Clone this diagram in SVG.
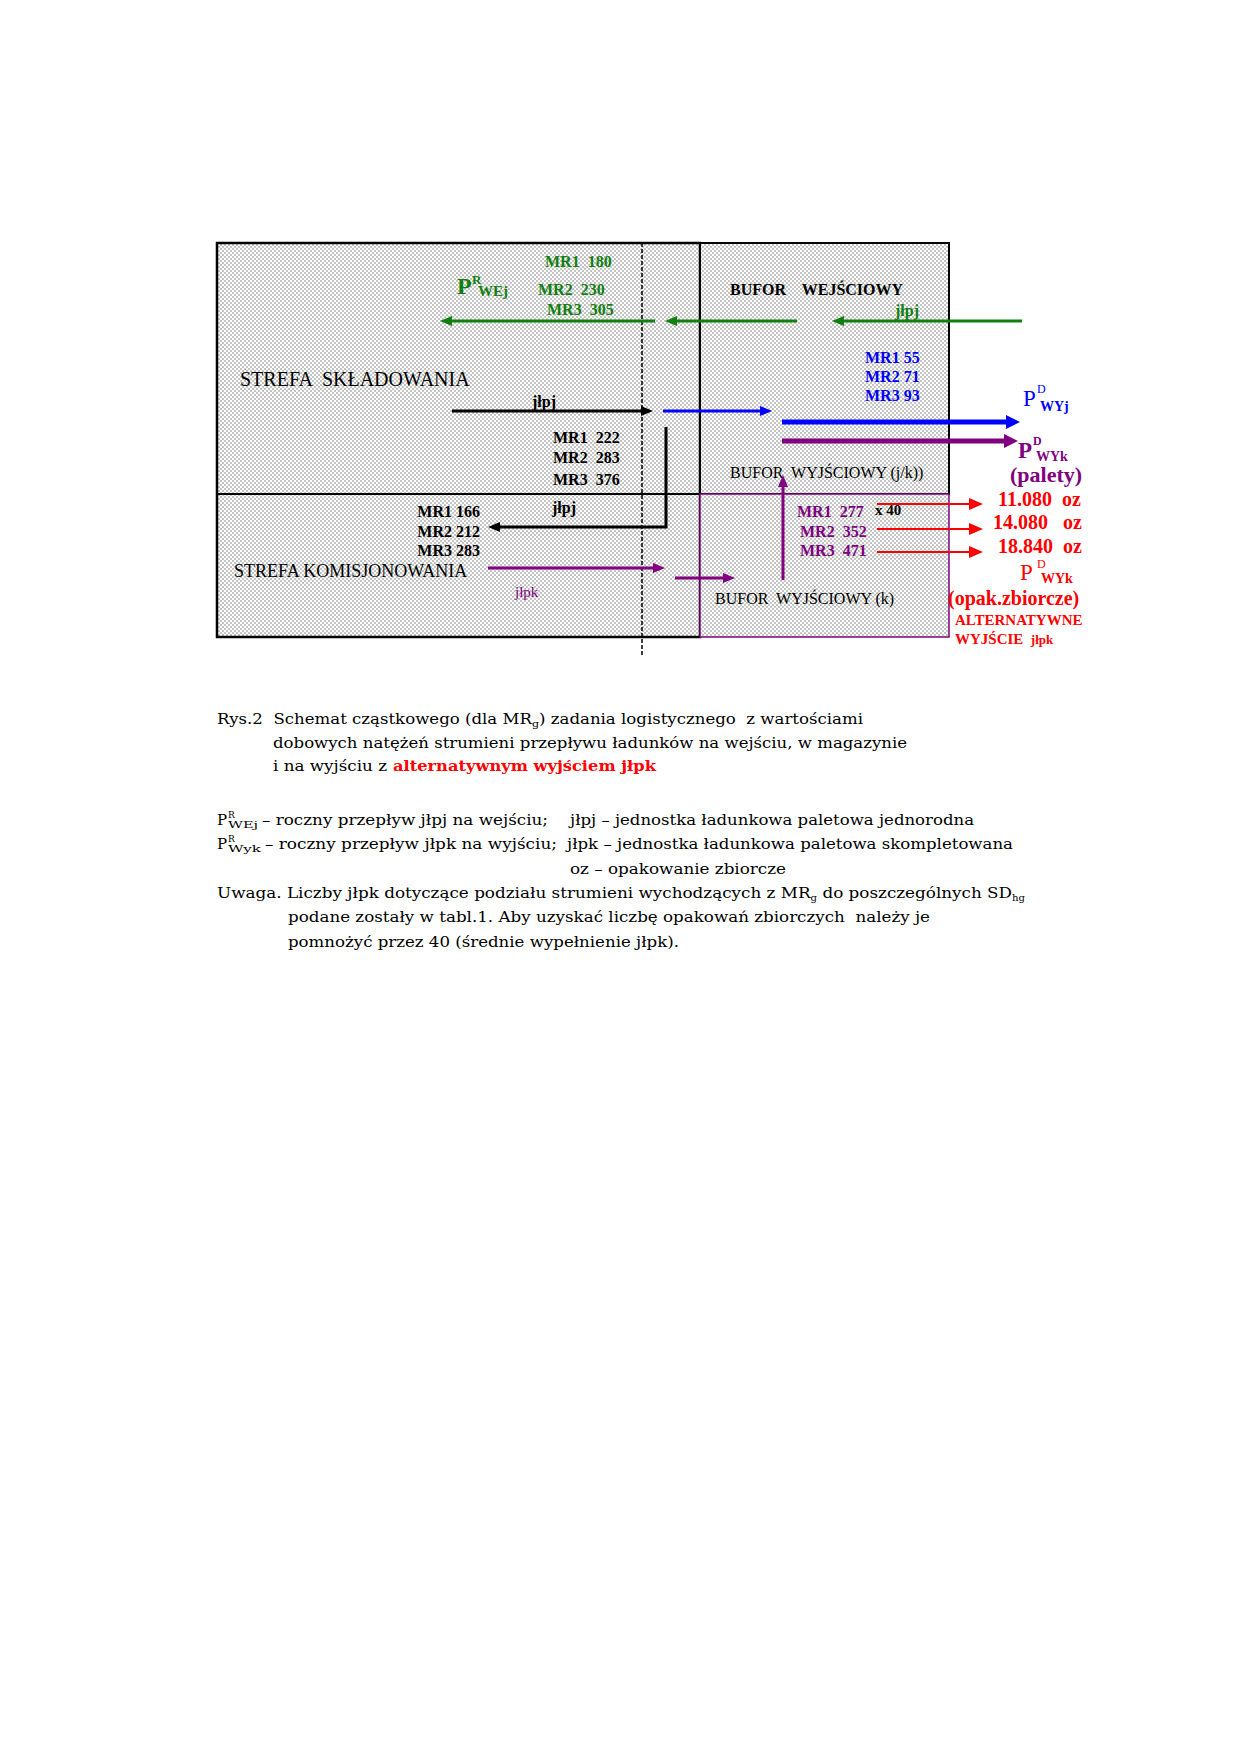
<svg xmlns="http://www.w3.org/2000/svg" width="1240" height="1754" viewBox="0 0 1240 1754">
<style>
text{font-family:"Liberation Serif","Times New Roman",serif;white-space:pre}
.b{font-weight:bold}
.g{fill:#108010}
.bl{fill:#0000ff}
.pu{fill:#800080}
.r{fill:#ff0000}
.k{fill:#000000}
.cap{font-family:"DejaVu Serif",serif;font-size:15px;fill:#000000}
.s16{font-size:16px}
.s15{font-size:15px}
.s20{font-size:20px}
</style>
<defs>
<pattern id="hatch" width="4" height="4" patternUnits="userSpaceOnUse">
<rect width="4" height="4" fill="#ffffff"/>
<rect width="2" height="2" fill="#c4c4c4"/>
<rect x="2" y="2" width="2" height="2" fill="#c4c4c4"/>
</pattern>
<marker id="mg" viewBox="0 0 12 10" refX="1" refY="5" markerWidth="12" markerHeight="10" markerUnits="userSpaceOnUse" orient="auto"><path d="M0,0 L12,5 L0,10 z" fill="#108010"/></marker>
<marker id="mk" viewBox="0 0 12 10" refX="1" refY="5" markerWidth="12" markerHeight="10" markerUnits="userSpaceOnUse" orient="auto"><path d="M0,0 L12,5 L0,10 z" fill="#000000"/></marker>
<marker id="mb" viewBox="0 0 12 10" refX="1" refY="5" markerWidth="12" markerHeight="10" markerUnits="userSpaceOnUse" orient="auto"><path d="M0,0 L12,5 L0,10 z" fill="#0000ff"/></marker>
<marker id="mbt" viewBox="0 0 14 14" refX="1" refY="7" markerWidth="14" markerHeight="14" markerUnits="userSpaceOnUse" orient="auto"><path d="M0,0 L14,7 L0,14 z" fill="#0000ff"/></marker>
<marker id="mpt" viewBox="0 0 14 14" refX="1" refY="7" markerWidth="14" markerHeight="14" markerUnits="userSpaceOnUse" orient="auto"><path d="M0,0 L14,7 L0,14 z" fill="#800080"/></marker>
<marker id="mp" viewBox="0 0 12 10" refX="1" refY="5" markerWidth="12" markerHeight="10" markerUnits="userSpaceOnUse" orient="auto"><path d="M0,0 L12,5 L0,10 z" fill="#800080"/></marker>
<marker id="mr" viewBox="0 0 14 12" refX="1" refY="6" markerWidth="14" markerHeight="12" markerUnits="userSpaceOnUse" orient="auto"><path d="M0,0 L14,6 L0,12 z" fill="#ff0000"/></marker>
</defs>

<g id="strefa-skladowania">
<rect x="217" y="243" width="483" height="394" fill="url(#hatch)" stroke="#000" stroke-width="2.5"/>
<line x1="217" y1="494" x2="700" y2="494" stroke="#000" stroke-width="2"/>
<text x="240" y="386" style="font-size:20px" class="k">STREFA  SKŁADOWANIA</text>
</g>
<g id="strefa-komisjonowania">
<text x="234" y="577" style="font-size:18px" class="k">STREFA KOMISJONOWANIA</text>
</g>
<g id="bufor-wejsciowy">
<rect x="700" y="243" width="249" height="251" fill="url(#hatch)" stroke="#000" stroke-width="2"/>
<text x="730" y="295" class="b s16 k">BUFOR    WEJŚCIOWY</text>
<text x="730" y="478" class="s16 k">BUFOR  WYJŚCIOWY (j/k))</text>
</g>
<g id="bufor-wyjsciowy-k">
<rect x="700" y="494" width="249" height="143" fill="url(#hatch)" stroke="#800080" stroke-width="1.5"/>
<text x="715" y="604" class="s16 k">BUFOR  WYJŚCIOWY (k)</text>
</g>
<line x1="642" y1="243" x2="642" y2="657" stroke="#000" stroke-width="1.5" stroke-dasharray="4,2"/>

<g id="connectors" fill="none">
<line x1="1022" y1="321" x2="843" y2="321" stroke="#108010" stroke-width="3" marker-end="url(#mg)"/>
<line x1="797" y1="321" x2="676" y2="321" stroke="#108010" stroke-width="3" marker-end="url(#mg)"/>
<line x1="655" y1="321" x2="451" y2="321" stroke="#108010" stroke-width="3" marker-end="url(#mg)"/>
<line x1="452" y1="411" x2="642" y2="411" stroke="#000" stroke-width="3" marker-end="url(#mk)"/>
<line x1="663" y1="411" x2="761" y2="411" stroke="#0000ff" stroke-width="3" marker-end="url(#mb)"/>
<line x1="782" y1="422" x2="1007" y2="422" stroke="#0000ff" stroke-width="5" marker-end="url(#mbt)"/>
<line x1="782" y1="441" x2="1005" y2="441" stroke="#800080" stroke-width="5" marker-end="url(#mpt)"/>
<polyline points="666,427 666,527 499,527" stroke="#000" stroke-width="3" marker-end="url(#mk)"/>
<line x1="488" y1="568" x2="654" y2="568" stroke="#800080" stroke-width="3" marker-end="url(#mp)"/>
<line x1="675" y1="578" x2="724" y2="578" stroke="#800080" stroke-width="3" marker-end="url(#mp)"/>
<line x1="783" y1="580" x2="783" y2="486" stroke="#800080" stroke-width="3" marker-end="url(#mp)"/>
<line x1="877" y1="504" x2="970" y2="504" stroke="#ff0000" stroke-width="2" marker-end="url(#mr)"/>
<line x1="877" y1="529" x2="970" y2="529" stroke="#ff0000" stroke-width="2" marker-end="url(#mr)"/>
<line x1="877" y1="552" x2="970" y2="552" stroke="#ff0000" stroke-width="2" marker-end="url(#mr)"/>
</g>

<g id="labels-green">
<text x="545" y="267" class="b s16 g">MR1  180</text>
<text x="538" y="295" class="b s16 g">MR2  230</text>
<text x="547" y="315" class="b s16 g">MR3  305</text>
<text x="457" y="294" class="b g" style="font-size:24px">P</text>
<text x="472" y="284" class="b g" style="font-size:13px">R</text>
<text x="478" y="296" class="b g" style="font-size:15px">WEj</text>
<text x="895" y="316" class="b s16 g">jłpj</text>
</g>
<g id="labels-black">
<text x="532" y="407" class="b s16 k">jłpj</text>
<text x="553" y="443" class="b s16 k">MR1  222</text>
<text x="553" y="463" class="b s16 k">MR2  283</text>
<text x="553" y="485" class="b s16 k">MR3  376</text>
<text x="480" y="517" class="b s16 k" text-anchor="end">MR1 166</text>
<text x="480" y="537" class="b s16 k" text-anchor="end">MR2 212</text>
<text x="480" y="556" class="b s16 k" text-anchor="end">MR3 283</text>
<text x="552" y="513" class="b s16 k">jłpj</text>
<text x="875" y="515" class="b s15 k">x 40</text>
</g>
<g id="labels-blue">
<text x="865" y="363" class="b s16 bl">MR1 55</text>
<text x="865" y="382" class="b s16 bl">MR2 71</text>
<text x="865" y="401" class="b s16 bl">MR3 93</text>
<text x="1023" y="406" class="bl" style="font-size:23px">P</text>
<text x="1037" y="393" class="bl" style="font-size:12px">D</text>
<text x="1040" y="411" class="b bl" style="font-size:14px">WYj</text>
</g>
<g id="labels-purple">
<text x="1018" y="458" class="b pu" style="font-size:23px">P</text>
<text x="1033" y="445" class="b pu" style="font-size:12px">D</text>
<text x="1036" y="461" class="b pu" style="font-size:14px">WYk</text>
<text x="1010" y="482" class="b pu" style="font-size:22px">(palety)</text>
<text x="797" y="517" class="b s16 pu">MR1  277</text>
<text x="800" y="537" class="b s16 pu">MR2  352</text>
<text x="800" y="556" class="b s16 pu">MR3  471</text>
<text x="515" y="597" class="s15 pu">jłpk</text>
</g>
<g id="labels-red">
<text x="998" y="506" class="b s20 r">11.080  oz</text>
<text x="993" y="529" class="b s20 r">14.080   oz</text>
<text x="998" y="553" class="b s20 r">18.840  oz</text>
<text x="1020" y="580" class="r" style="font-size:23px">P</text>
<text x="1037" y="568" class="r" style="font-size:12px">D</text>
<text x="1041" y="583" class="b r" style="font-size:14px">WYk</text>
<text x="948" y="605" class="b r" style="font-size:20px">(opak.zbiorcze)</text>
<text x="955" y="625" class="b s15 r">ALTERNATYWNE</text>
<text x="955" y="644" class="b s15 r">WYJŚCIE  <tspan style="font-size:13px">jłpk</tspan></text>
</g>

<g id="caption">
<text class="cap" x="217" y="724" textLength="646" lengthAdjust="spacingAndGlyphs">Rys.2  Schemat cząstkowego (dla MR<tspan font-size="10" dy="3">g</tspan><tspan dy="-3">) zadania logistycznego  z wartościami</tspan></text>
<text class="cap" x="273" y="748" textLength="634" lengthAdjust="spacingAndGlyphs">dobowych natężeń strumieni przepływu ładunków na wejściu, w magazynie</text>
<text class="cap" x="273" y="771" textLength="114" lengthAdjust="spacingAndGlyphs">i na wyjściu z</text>
<text class="cap" x="393" y="771" textLength="263" lengthAdjust="spacingAndGlyphs" style="fill:#ff0000;font-weight:bold">alternatywnym wyjściem jłpk</text>
</g>
<g id="legend">
<text class="cap" x="217" y="825">P</text>
<text class="cap" x="228" y="818" style="font-size:9px">R</text>
<text class="cap" x="228" y="828" style="font-size:10px" textLength="30" lengthAdjust="spacingAndGlyphs">WEj</text>
<text class="cap" x="262" y="825" textLength="286" lengthAdjust="spacingAndGlyphs">– roczny przepływ jłpj na wejściu;</text>
<text class="cap" x="570" y="825" textLength="404" lengthAdjust="spacingAndGlyphs">jłpj – jednostka ładunkowa paletowa jednorodna</text>
<text class="cap" x="217" y="849">P</text>
<text class="cap" x="228" y="842" style="font-size:9px">R</text>
<text class="cap" x="228" y="852" style="font-size:10px" textLength="33" lengthAdjust="spacingAndGlyphs">Wyk</text>
<text class="cap" x="265" y="849" textLength="292" lengthAdjust="spacingAndGlyphs">– roczny przepływ jłpk na wyjściu;</text>
<text class="cap" x="567" y="849" textLength="446" lengthAdjust="spacingAndGlyphs">jłpk – jednostka ładunkowa paletowa skompletowana</text>
<text class="cap" x="570" y="874" textLength="216" lengthAdjust="spacingAndGlyphs">oz – opakowanie zbiorcze</text>
<text class="cap" x="217" y="898" textLength="808" lengthAdjust="spacingAndGlyphs">Uwaga. Liczby jłpk dotyczące podziału strumieni wychodzących z MR<tspan font-size="9" dy="3">g</tspan><tspan dy="-3"> do poszczególnych SD</tspan><tspan font-size="9" dy="3">hg</tspan></text>
<text class="cap" x="288" y="922" textLength="642" lengthAdjust="spacingAndGlyphs">podane zostały w tabl.1. Aby uzyskać liczbę opakowań zbiorczych  należy je</text>
<text class="cap" x="288" y="947" textLength="391" lengthAdjust="spacingAndGlyphs">pomnożyć przez 40 (średnie wypełnienie jłpk).</text>
</g>
</svg>
